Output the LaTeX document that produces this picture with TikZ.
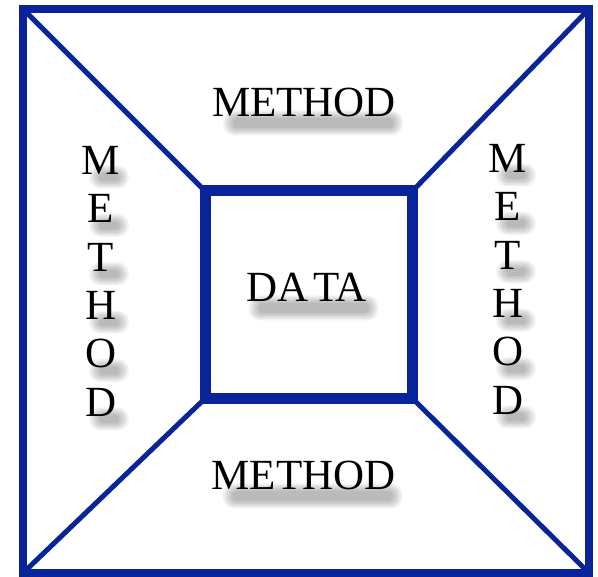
\documentclass[tikz,border=0pt]{standalone}
\usepackage{fontspec}
\setmainfont{Liberation Serif}
\usetikzlibrary{backgrounds}
\definecolor{frameblue}{RGB}{8,36,152}
% soft grey shadow blob centred on coordinate #1, half width #2, half height #3
\newcommand\blob[3]{%
  \foreach \i in {0,...,5}{
    \fill[black,fill opacity=0.05,rounded corners={4pt+\i*1.5pt}]
      ([shift={(-#2-2*\i,-#3-1.5*\i)}]#1) rectangle ([shift={(#2+2*\i,#3+1.5*\i)}]#1);
  }}
\begin{document}
\begin{tikzpicture}[x=1pt,y=-1pt,
  outer/.style={draw=frameblue,line width=8pt,line join=miter},
  inner/.style={draw=frameblue,line width=11pt,line join=miter},
  diag/.style={draw=frameblue,line width=5pt},
  lbl/.style={inner sep=0pt,align=center,font=\fontsize{43}{48.4}\selectfont,text=black},
]
\useasboundingbox (0,0) rectangle (598,577);
\coordinate (O1) at (23,9);
\coordinate (O2) at (589,9);
\coordinate (O3) at (589,573);
\coordinate (O4) at (23,573);
\coordinate (I1) at (205,191);
\coordinate (I2) at (412.5,191);
\coordinate (I3) at (412.5,398.5);
\coordinate (I4) at (205,398.5);
\draw[diag] (O1) -- (I1);
\draw[diag] (O2) -- (I2);
\draw[diag] (O3) -- (I3);
\draw[diag] (O4) -- (I4);
\draw[outer] (O1) rectangle (O3);
\draw[inner] (I1) rectangle (I3);
% texts
\node[lbl,anchor=south] (top) at (304,117) {METHOD};
\node[lbl,anchor=south] (bottom) at (303.5,490) {METHOD};
\node[lbl,anchor=south] (data) at (306.5,302) {DA\kern5pt TA};
\node[lbl,anchor=north] (left) at (101,146) {M\\E\\T\\H\\O\\D};
\node[lbl,anchor=north] (right) at (508,144) {M\\E\\T\\H\\O\\D};
% shadows
\begin{scope}[on background layer]
  \coordinate (st) at ([shift={(9,6)}]top.south);
  \blob{st}{80}{5}
  \coordinate (sb) at ([shift={(9,6)}]bottom.south);
  \blob{sb}{80}{5}
  \coordinate (sd) at ([shift={(7,6)}]data.south);
  \blob{sd}{55}{5}
  \foreach \k in {0,...,5}{
    \coordinate (sl\k) at ([shift={(8,31+48.4*\k)}]left.north);
    \blob{sl\k}{10}{4}
    \coordinate (sr\k) at ([shift={(8,31+48.4*\k)}]right.north);
    \blob{sr\k}{10}{4}
  }
\end{scope}
\end{tikzpicture}
\end{document}
